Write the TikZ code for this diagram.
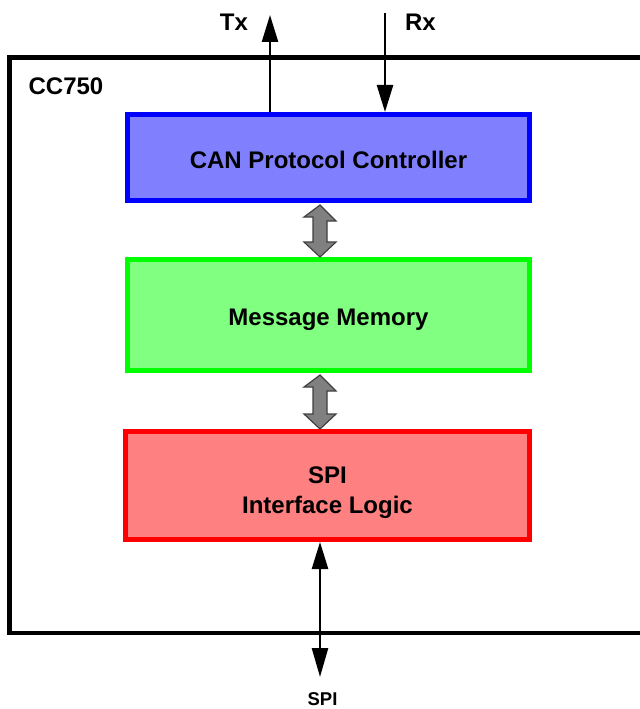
\documentclass[tikz,border=0pt]{standalone}
\usepackage{fontspec}
\setmainfont{Liberation Sans}
\usetikzlibrary{arrows.meta,calc}
\definecolor{canfill}{RGB}{128,128,255}
\definecolor{memfill}{RGB}{128,255,128}
\definecolor{logicfill}{RGB}{255,128,128}
\tikzset{
	blockbox/.style={rectangle,line width=5bp,minimum width=402bp,
		node font=\bfseries\fontsize{24bp}{30bp}\selectfont,
		text height=21bp,text depth=0bp},
	lbl/.style={anchor=base,node font=\bfseries\fontsize{24bp}{30bp}\selectfont},
	sig/.style={line width=2.5bp,-{Triangle[length=27bp,width=16bp]}},
	bus/.style={draw=black!75,fill=black!50,line width=1.2bp,line join=miter}
}
\begin{document}
\begin{tikzpicture}[x=1bp,y=-1bp]
\clip (0,0) rectangle (640,709);
\draw[line width=4.5bp] (9.5,57.5) rectangle (660,633);
\node[lbl] (chip) at (66,94.5) {CC750};
\node[blockbox,draw=blue,fill=canfill,minimum height=86bp] (can) at (328.5,157.5)
	{CAN Protocol Controller};
\node[blockbox,draw=green,fill=memfill,minimum height=111bp] (mem) at (328.5,315)
	{Message Memory};
\node[blockbox,draw=red,fill=logicfill,minimum width=404bp,minimum height=108bp,
	align=center,text height=55bp,text depth=0bp] (logic) at (327.5,485.5)
	{SPI\\Interface Logic};
% pins
\coordinate (tx) at (270,15);
\coordinate (rx) at (385,13);
\coordinate (spiout) at (320,677);
\draw[sig] (tx |- can.north) -- (tx);
\draw[sig] (rx) -- (rx |- can.north);
\draw[sig,{Triangle[length=27bp,width=16bp]}-{Triangle[length=29bp,width=16bp]}]
	(spiout |- logic.south) -- (spiout);
\node[lbl] (txl) at (234,30.5) {Tx};
\node[lbl] (rxl) at (420.5,30.5) {Rx};
\node[lbl,font=\fontsize{18.5bp}{22bp}\selectfont] (spil) at (322.5,705.5) {SPI};
% internal buses
\foreach \a/\b in {can/mem,mem/logic}
	\draw[bus] ([yshift=-2bp]\a.south -| 320,0) -- ++(16,16) -- ++(-9,0)
		-- ($(\b.north -| 320,0)+(7,-15)$) -- ++(9,0) -- (\b.north -| 320,0)
		-- ++(-16,-15) -- ++(9,0) -- ($(\a.south -| 320,0)+(-7,14)$)
		-- ++(-9,0) -- cycle;
\end{tikzpicture}
\end{document}
